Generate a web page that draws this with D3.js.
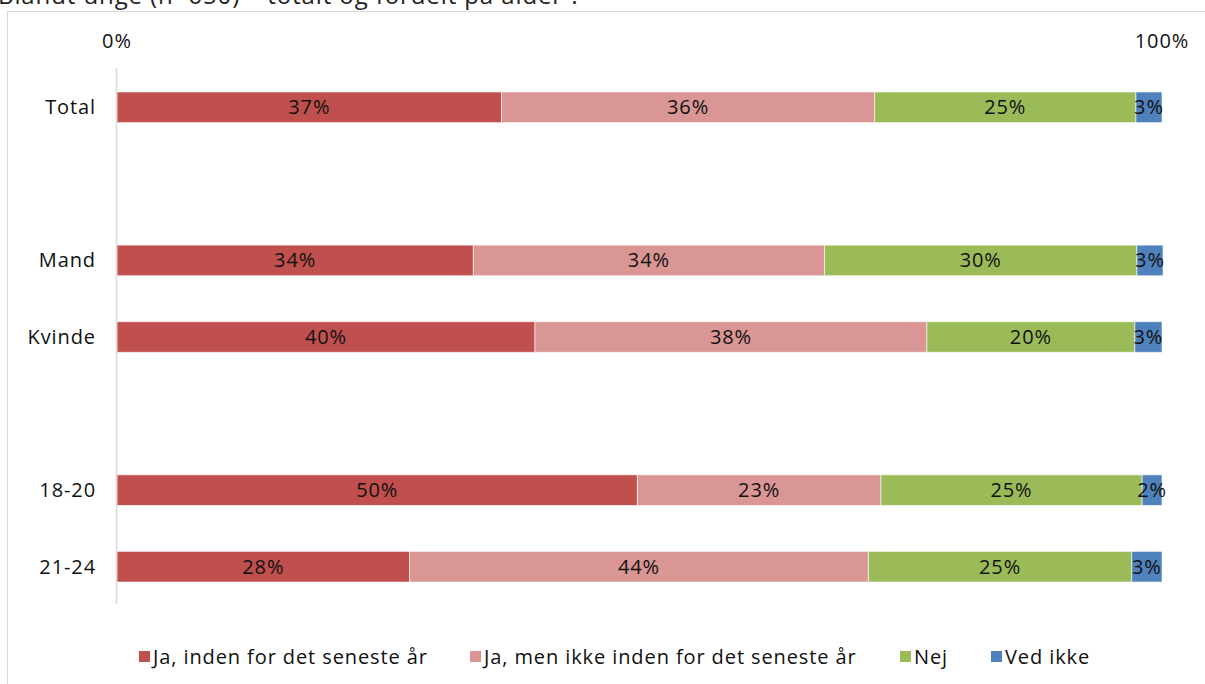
<!DOCTYPE html>
<html>
<head>
<meta charset="utf-8">
<script src="https://cdn.jsdelivr.net/npm/d3@7"></script>
<style>
   body { margin: 0; background: #fff; }
   svg { display: block; font-family: 'Open Sans', Lato, sans-serif; letter-spacing: 0.9px; }
</style>
</head>
<body>
<div id="chart"></div>
<script>
const categories = ['Total', '', 'Mand', 'Kvinde', ' ', '18-20', '21-24'];
const seriesNames = ['Ja, inden for det seneste år', 'Ja, men ikke inden for det seneste år', 'Nej', 'Ved ikke'];
const seriesColors = ['#C0504D', '#D99694', '#9BBB59', '#4F81BD'];
// share per category, in series order (null = empty row)
const jaSeneste = [36.8, null, 34.1, 40.0, null, 49.8, 28.0];
const jaIkkeSeneste = [35.7, null, 33.6, 37.5, null, 23.3, 43.9];
const nej = [25.0, null, 29.9, 19.9, null, 25.0, 25.2];
const vedIkke = [2.5, null, 2.5, 2.6, null, 1.9, 2.9];
const labelsJa = ['37%', '', '34%', '40%', '', '50%', '28%'];
const labelsJaIkke = ['36%', '', '34%', '38%', '', '23%', '44%'];
const labelsNej = ['25%', '', '30%', '20%', '', '25%', '25%'];
const labelsVed = ['3%', '', '3%', '3%', '', '2%', '3%'];
const tickLabels = ['0%', '100%'];

const width = 1205, height = 684;
const plot = { left: 117, right: 1162, top: 69, bottom: 605 };

const svg = d3.select('#chart').append('svg')
   .attr('width', width)
   .attr('height', height);

// title, cut at the top of the picture as in the source
svg.append('text')
   .attr('x', -2)
   .attr('y', 4)
   .style('font-size', '24px')
   .style('fill', '#222')
   .text('Blandt unge (n=650) – totalt og fordelt på alder ?');

svg.append('rect')
   .attr('x', 7.5)
   .attr('y', 11.5)
   .attr('width', 1210)
   .attr('height', 700)
   .attr('fill', 'none')
   .attr('stroke', '#d9d9d9');

let x = d3.scaleLinear().domain([0, 100]).range([plot.left, plot.right]);
let y = d3.scaleBand().domain(categories).range([plot.top, plot.bottom]).paddingInner(0.6).paddingOuter(0.3);

const seriesValues = [jaSeneste, jaIkkeSeneste, nej, vedIkke];
const seriesLabels = [labelsJa, labelsJaIkke, labelsNej, labelsVed];

let rows = categories.map((c, i) => {
   let start = 0;
   return seriesValues.map((s, k) => {
      let v = s[i];
      let seg = { cat: c, k: k, x0: start, x1: start + (v || 0), label: seriesLabels[k][i], empty: v === null };
      start += v || 0;
      return seg;
   });
});
let segments = rows.flat().filter(d => !d.empty);

svg.append('g')
   .selectAll('rect')
   .data(segments)
   .enter().append('rect')
   .attr('x', d => x(d.x0))
   .attr('y', d => y(d.cat))
   .attr('width', d => x(d.x1) - x(d.x0))
   .attr('height', y.bandwidth())
   .attr('fill', d => seriesColors[d.k])
   .attr('stroke', '#fff')
   .attr('stroke-opacity', 0.6)
   .attr('stroke-width', 1);

svg.append('g')
   .selectAll('text')
   .data(segments)
   .enter().append('text')
   .attr('x', d => (x(d.x0) + x(d.x1)) / 2)
   .attr('y', d => y(d.cat) + y.bandwidth() / 2)
   .attr('dy', '.35em')
   .style('text-anchor', 'middle')
   .style('font-size', '20px')
   .style('fill', '#111')
   .text(d => d.label);

// top axis labels
svg.append('g')
   .selectAll('text')
   .data(tickLabels)
   .enter().append('text')
   .attr('x', (d, i) => x(i * 100))
   .attr('y', 48)
   .style('text-anchor', 'middle')
   .style('font-size', '20px')
   .style('fill', '#111')
   .text(d => d);

// vertical axis line
svg.append('line')
   .attr('x1', x(0) - 0.5)
   .attr('x2', x(0) - 0.5)
   .attr('y1', plot.top - 1)
   .attr('y2', plot.bottom - 1)
   .attr('stroke', '#d9d9d9')
   .attr('stroke-width', 1.5);

// category labels
svg.append('g')
   .selectAll('text')
   .data(categories.filter(c => c.trim() !== ''))
   .enter().append('text')
   .attr('x', 96)
   .attr('y', d => y(d) + y.bandwidth() / 2)
   .attr('dy', '.35em')
   .style('text-anchor', 'end')
   .style('font-size', '20px')
   .style('fill', '#111')
   .text(d => d);

// legend
const legendX = [139, 470, 900, 991];
let legend = svg.selectAll('.legend')
   .data(seriesNames)
   .enter().append('g')
   .attr('class', 'legend')
   .attr('transform', (d, i) => `translate( ${legendX[i]}, 657 )`);

legend.append('rect')
   .attr('x', 0)
   .attr('y', -6)
   .attr('width', 11)
   .attr('height', 11)
   .attr('fill', (d, i) => seriesColors[i]);

legend.append('text')
   .attr('x', 14)
   .attr('y', 0)
   .attr('dy', '.35em')
   .style('font-size', '20px')
   .style('fill', '#111')
   .text(d => d);
</script>
</body>
</html>
